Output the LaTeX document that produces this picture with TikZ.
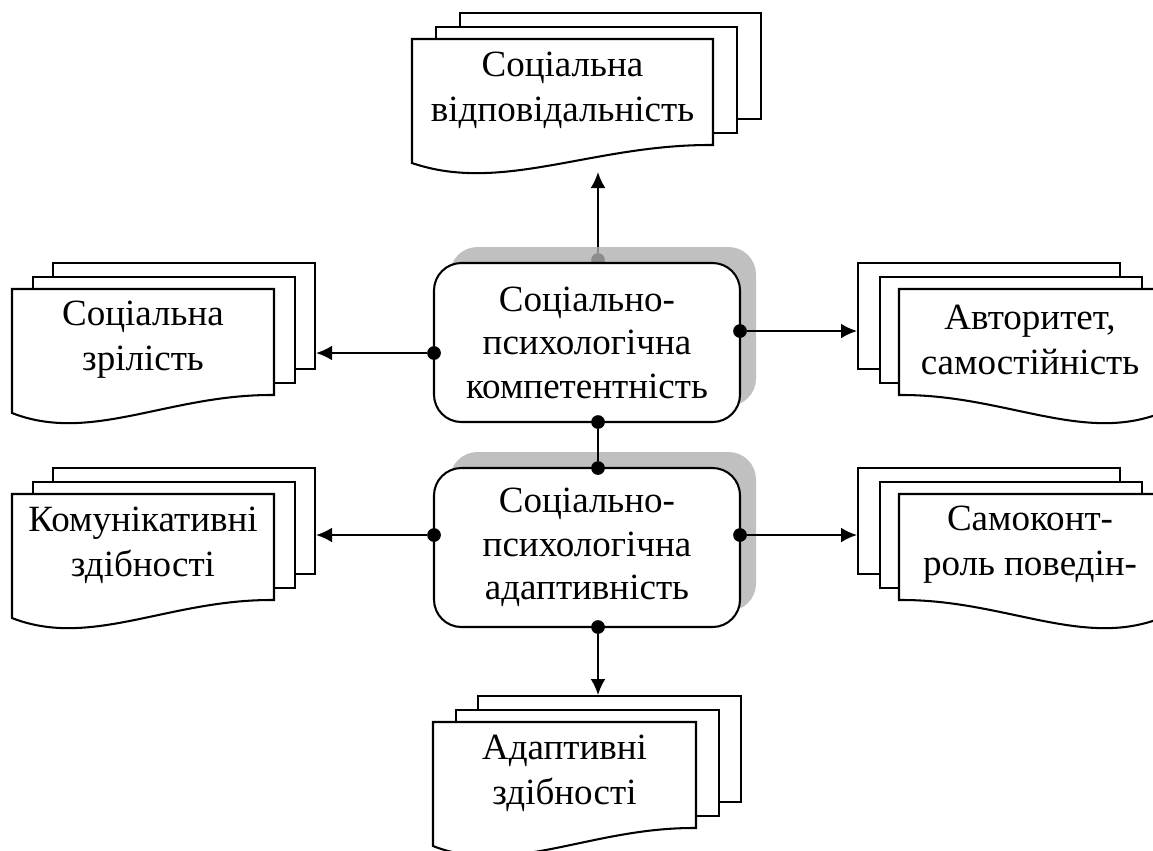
\documentclass[tikz,border=0pt]{standalone}
\usepackage{fontspec}
\setmainfont{Liberation Serif}
\usetikzlibrary{arrows.meta,shadows}

\begin{document}
\begin{tikzpicture}[x=0.4375pt,y=-0.4375pt,
  sheet/.style={draw=cs0,fill=cfs0,line width=0.9pt,inner sep=0pt,anchor=north west,minimum height=46.375pt},
  front/.style={draw=cs0,fill=cfs0,line width=0.9pt},
  txt/.style={align=center,inner sep=0pt,text=clt0,font=\fontsize{16.2pt}{19.6pt}\selectfont},
  box/.style={draw=cs0,fill=cfs0,line width=0.9pt,rounded corners=12pt,minimum width=133.875pt,minimum height=69.5625pt,
    align=center,inner sep=0pt,text=clt0,font=\fontsize{16.2pt}{19pt}\selectfont,
    drop shadow={shadow xshift=7pt,shadow yshift=7pt,fill=csh0,opacity=0.8}},
  dot/.style={circle,fill=cd0,inner sep=0pt,minimum size=6pt},
  link/.style={draw=cs0,line width=0.9pt},
  conn/.style={link,-{Latex[length=7pt,width=6.5pt]}}]
\definecolor{cs0}{rgb}{0.0,0.0,0.0}
\definecolor{cfs0}{rgb}{1.0,1.0,1.0}
\definecolor{clt0}{rgb}{0.0,0.0,0.0}
\definecolor{csh0}{rgb}{0.69,0.69,0.69}
\definecolor{cd0}{rgb}{0.0,0.0,0.0}
\useasboundingbox (0,0) rectangle (1153,850);
%
\node[sheet,minimum width=131.6875pt] (b0) at (459,12) {};
\node[sheet,minimum width=131.6875pt] (m0) at (435,26) {};
\draw[front] (412,39) -- (713,39) -- (713,145) .. controls (593,144) and (502,194) .. (412,163) -- cycle;
\node[txt] (d0) at (562.5,90) {Соціальна\\відповідальність};
%
\node[sheet,minimum width=114.625pt] (b1) at (52,262) {};
\node[sheet,minimum width=114.625pt] (m1) at (32,276) {};
\draw[front] (12,289) -- (274,289) -- (274,395) .. controls (169,394) and (91,444) .. (12,413) -- cycle;
\node[txt] (d1) at (143,340) {Соціальна\\зрілість};
%
\node[sheet,minimum width=114.625pt] (b2) at (857,262) {};
\node[sheet,minimum width=114.625pt] (m2) at (879,276) {};
\draw[front] (899,289) -- (1161,289) -- (1161,413) .. controls (1082,444) and (1004,394) .. (899,395) -- cycle;
\node[txt] (d2) at (1030,340) {Авторитет,\\самостійність};
%
\node[sheet,minimum width=114.625pt] (b3) at (52,467) {};
\node[sheet,minimum width=114.625pt] (m3) at (32,481) {};
\draw[front] (12,494) -- (274,494) -- (274,600) .. controls (169,599) and (91,649) .. (12,618) -- cycle;
\node[txt] (d3) at (143,545) {Комунікативні\\здібності};
%
\node[sheet,minimum width=114.625pt] (b4) at (857,467) {};
\node[sheet,minimum width=114.625pt] (m4) at (879,481) {};
\draw[front] (899,494) -- (1161,494) -- (1161,618) .. controls (1082,649) and (1004,599) .. (899,600) -- cycle;
\node[txt] (d4) at (1030,545) {Самоконт-\\роль поведін-};
%
\node[sheet,minimum width=115.0625pt] (b5) at (477,695) {};
\node[sheet,minimum width=115.0625pt] (m5) at (455,709) {};
\draw[front] (433,722) -- (696,722) -- (696,828) .. controls (591,827) and (512,877) .. (433,846) -- cycle;
\node[txt] (d5) at (564.5,773) {Адаптивні\\здібності};
%
\node[dot] (p0) at (598,260) {};
\coordinate (a0) at (598,172);
\draw[conn] (p0) -- (a0);
%
\node[box] (v0) at (587,342.5) {Соціально-\\психологічна\\компетентність};
\node[box] (v1) at (587,547.5) {Соціально-\\психологічна\\адаптивність};
%
\node[dot] (p1) at (434,353) {};
\node[dot] (p2) at (740,331) {};
\node[dot] (p3) at (598,422) {};
\node[dot] (p4) at (598,468) {};
\node[dot] (p5) at (434,535) {};
\node[dot] (p6) at (740,535) {};
\node[dot] (p7) at (598,627) {};
%
\draw[conn] (p1) -- (b1.east |- p1);
\draw[conn] (p2) -- (b2.west |- p2);
\draw[link] (p3) -- (p4);
\draw[conn] (p5) -- (b3.east |- p5);
\draw[conn] (p6) -- (b4.west |- p6);
\draw[conn] (p7) -- (b5.north -| p7);
%
\end{tikzpicture}
\end{document}
